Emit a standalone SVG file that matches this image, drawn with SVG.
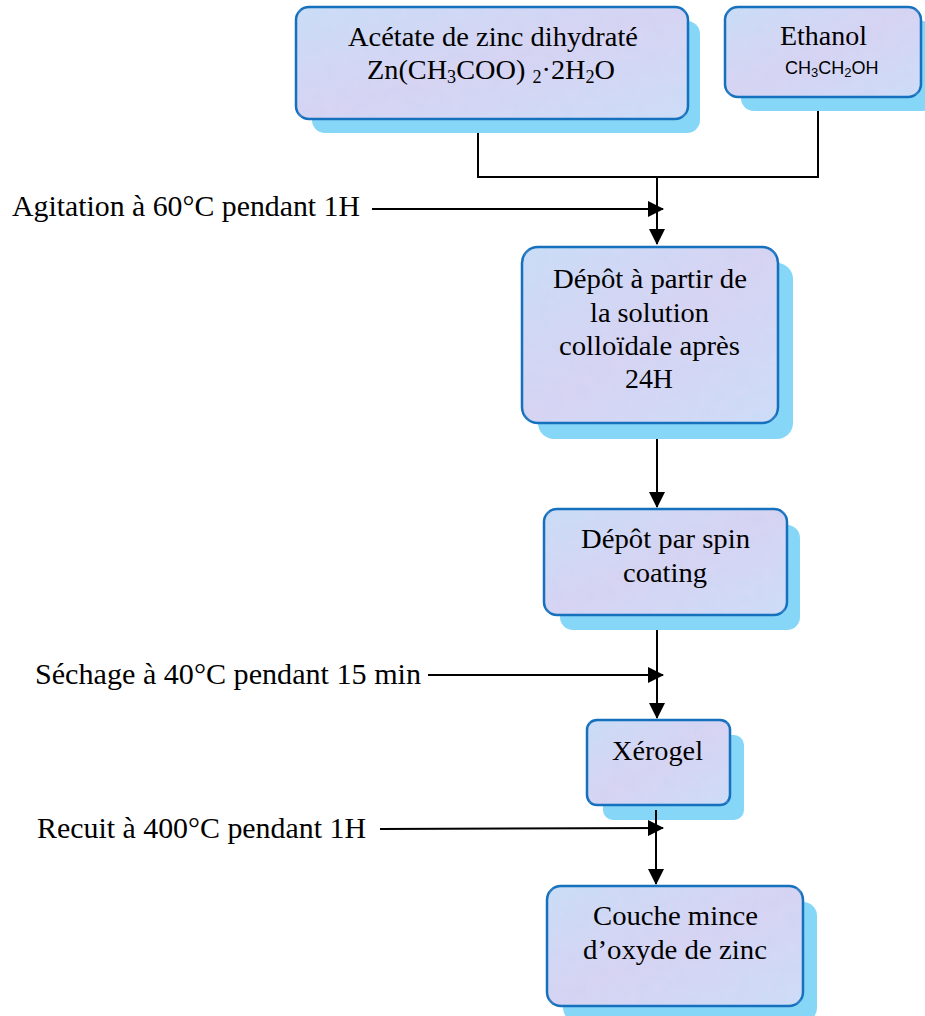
<svg xmlns="http://www.w3.org/2000/svg" width="925" height="1016" viewBox="0 0 925 1016">
<style>
.box{fill:url(#fillg);stroke:#1570bd;stroke-width:2.5}
.sh{fill:#86d7f7}
.t{font-family:"Liberation Serif","Times New Roman",serif;font-size:28px;fill:#000}
.lbl{font-family:"Liberation Serif","Times New Roman",serif;font-size:29px;fill:#000}
.a{font-family:"Liberation Sans",Arial,sans-serif;font-size:18px;fill:#000}
.c{fill:none;stroke:#000;stroke-width:2}
</style>
<defs>
<linearGradient id="fillg" x1="0" y1="0" x2="1" y2="1">
<stop offset="0" stop-color="#c6dcf6"/>
<stop offset="0.5" stop-color="#d3d2f2"/>
<stop offset="1" stop-color="#c9dcf7"/>
</linearGradient>
<filter id="noise" x="0" y="0" width="100%" height="100%">
<feTurbulence type="fractalNoise" baseFrequency="0.08" numOctaves="2" seed="3"/>
<feColorMatrix type="matrix" values="0 0 0 0 0.85  0 0 0 0 0.75  0 0 0 0 0.95  0 0 0 0.35 0"/>
</filter>
<marker id="ah" markerUnits="userSpaceOnUse" markerWidth="16" markerHeight="16" viewBox="0 0 16 16" refX="15" refY="8" orient="auto">
<path d="M0,0 L16,8 L0,16 Z" fill="#000"/>
</marker>
</defs>

<g id="connectors">
<polyline class="c" points="478,119 478,177 818,177 818,97"/>
<line class="c" x1="657" y1="177" x2="657" y2="244" marker-end="url(#ah)"/>
<line class="c" x1="372" y1="209" x2="663" y2="209" marker-end="url(#ah)"/>
<line class="c" x1="657" y1="423" x2="657" y2="507" marker-end="url(#ah)"/>
<line class="c" x1="657" y1="628" x2="657" y2="718" marker-end="url(#ah)"/>
<line class="c" x1="428" y1="675" x2="663" y2="675" marker-end="url(#ah)"/>
<line class="c" x1="380" y1="829" x2="663" y2="828" marker-end="url(#ah)"/>
</g>

<g id="n1">
<rect class="sh" x="312" y="21" width="388" height="112" rx="13"/>
<rect class="box" x="296" y="7" width="392" height="112" rx="13"/>
<rect x="298" y="9" width="388" height="108" rx="11" filter="url(#noise)" opacity="0.6"/>
<text class="t" x="348" y="46" textLength="290" lengthAdjust="spacingAndGlyphs">Acétate de zinc dihydraté</text>
<text class="t" x="367" y="79" textLength="248" lengthAdjust="spacingAndGlyphs">Zn(CH<tspan font-size="18" dy="4">3</tspan><tspan dy="-4">COO) </tspan><tspan font-size="18" dy="4">2</tspan><tspan dy="-4">·2H</tspan><tspan font-size="18" dy="4">2</tspan><tspan dy="-4">O</tspan></text>
</g>

<g id="n2">
<rect class="sh" x="741" y="21" width="194" height="90" rx="13"/>
<rect class="box" x="725" y="7" width="196" height="90" rx="13"/>
<rect x="727" y="9" width="192" height="86" rx="11" filter="url(#noise)" opacity="0.6"/>
<text class="t" x="780" y="45" textLength="87" lengthAdjust="spacingAndGlyphs">Ethanol</text>
<text class="a" x="785" y="74">CH<tspan font-size="13" dy="3">3</tspan><tspan dy="-3">CH</tspan><tspan font-size="13" dy="3">2</tspan><tspan dy="-3">OH</tspan></text>
</g>

<g id="n3">
<rect class="sh" x="538" y="263" width="255" height="176" rx="16"/>
<rect class="box" x="522" y="247" width="256" height="176" rx="16"/>
<rect x="524" y="249" width="252" height="172" rx="14" filter="url(#noise)" opacity="0.6"/>
<text class="t" x="553" y="288" textLength="194" lengthAdjust="spacingAndGlyphs">Dépôt à partir de</text>
<text class="t" x="590" y="322" textLength="119" lengthAdjust="spacingAndGlyphs">la solution</text>
<text class="t" x="559" y="355" textLength="181" lengthAdjust="spacingAndGlyphs">colloïdale après</text>
<text class="t" x="625" y="388" textLength="48" lengthAdjust="spacingAndGlyphs">24H</text>
</g>

<g id="n4">
<rect class="sh" x="560" y="525" width="240" height="105" rx="13"/>
<rect class="box" x="544" y="509" width="243" height="106" rx="13"/>
<rect x="546" y="511" width="239" height="102" rx="11" filter="url(#noise)" opacity="0.6"/>
<text class="t" x="581" y="548" textLength="169" lengthAdjust="spacingAndGlyphs">Dépôt par spin</text>
<text class="t" x="623" y="582" textLength="84" lengthAdjust="spacingAndGlyphs">coating</text>
</g>

<g id="n5">
<rect class="sh" x="603" y="735" width="141" height="85" rx="10"/>
<rect class="box" x="587" y="720" width="143" height="85" rx="10"/>
<rect x="589" y="722" width="139" height="81" rx="8" filter="url(#noise)" opacity="0.6"/>
<text class="t" x="612" y="760" textLength="91" lengthAdjust="spacingAndGlyphs">Xérogel</text>
</g>
<line class="c" x1="656" y1="810" x2="656" y2="884" marker-end="url(#ah)"/>

<g id="n6">
<rect class="sh" x="563" y="902" width="254" height="120" rx="14"/>
<rect class="box" x="547" y="886" width="256" height="120" rx="14"/>
<rect x="549" y="888" width="252" height="116" rx="12" filter="url(#noise)" opacity="0.6"/>
<text class="t" x="593" y="925" textLength="165" lengthAdjust="spacingAndGlyphs">Couche mince</text>
<text class="t" x="583" y="959" textLength="184" lengthAdjust="spacingAndGlyphs">d’oxyde de zinc</text>
</g>

<g id="labels">
<text class="lbl" x="12" y="216" textLength="348" lengthAdjust="spacingAndGlyphs">Agitation à 60°C pendant 1H</text>
<text class="lbl" x="35" y="684" textLength="386" lengthAdjust="spacingAndGlyphs">Séchage à 40°C pendant 15 min</text>
<text class="lbl" x="37" y="838" textLength="329" lengthAdjust="spacingAndGlyphs">Recuit à 400°C pendant 1H</text>
</g>
</svg>
